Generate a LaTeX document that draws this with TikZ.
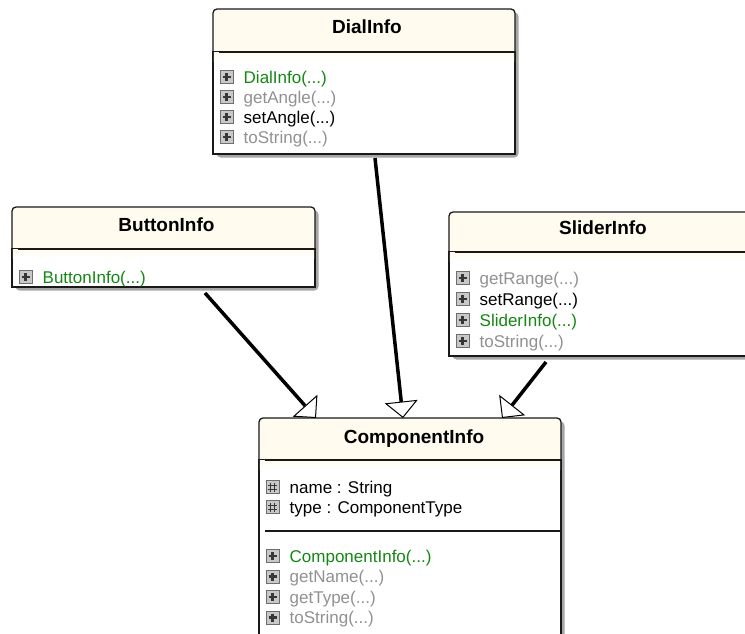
\documentclass[tikz,border=0pt]{standalone}
\usepackage{fontspec}
\setmainfont{Liberation Sans}
\usetikzlibrary{arrows.meta,calc,shadows}

\definecolor{cream}{RGB}{255,251,238}
\definecolor{ctorgreen}{RGB}{20,135,20}
\definecolor{mutedgray}{RGB}{145,145,145}
\definecolor{iconfill}{RGB}{200,200,200}
\definecolor{iconedge}{RGB}{110,110,110}
\definecolor{iconglyph}{RGB}{55,55,55}

\tikzset{
  classbox/.style={draw=black!90, line width=1.3pt, fill=cream, rounded corners=4pt,
    inner sep=0pt, outer sep=0pt, anchor=north west,
    drop shadow={shadow xshift=3.5pt, shadow yshift=-3.5pt, fill=black!35, opacity=1}},
  boxline/.style={draw=black!90, line width=1.3pt},
  sepline/.style={draw=black!90, line width=1.3pt},
  classtitle/.style={font=\bfseries\fontsize{19}{22}\selectfont, text height=13.6pt,
    text depth=0pt, inner sep=0pt, anchor=center},
  member/.style={font=\fontsize{17}{20}\selectfont, text height=12.2pt, text depth=0pt,
    inner sep=0pt, anchor=west},
  generalization/.style={line width=3.5pt,
    -{Triangle[length=16.5pt, width=33pt, line width=1pt, fill=white]}},
}

% body of a class: white compartment area, fading title band, separator
\newcommand\classframe[2]{%
  \draw[boxline, fill=white] ($(#1.north west)+(0,#2)$) rectangle (#1.south east);
  \shade[top color=cream, bottom color=white]
    ($(#1.north west)+(0.8,#2)$) rectangle ($(#1.north east)+(-0.8,#2+9)$);
  \draw[sepline] ($(#1.north west)+(6,#2)$) -- ($(#1.north east)+(0,#2)$);
}
% operation icon (boxed plus)
\newcommand\opicon[2]{%
  \path ($(#1.north west)+(13.5,#2)$) coordinate (ic);
  \draw[draw=iconedge, fill=iconfill, line width=1pt]
    ($(ic)+(-6.5,-6.5)$) rectangle ($(ic)+(6.5,6.5)$);
  \draw[iconglyph, line width=2.3pt]
    ($(ic)+(-4,0)$) -- ($(ic)+(4,0)$) ($(ic)+(0,-4)$) -- ($(ic)+(0,4)$);
}
% attribute icon (boxed hash)
\newcommand\fieldicon[2]{%
  \path ($(#1.north west)+(13.5,#2)$) coordinate (ic);
  \draw[draw=iconedge, fill=iconfill, line width=1pt]
    ($(ic)+(-6.5,-6.5)$) rectangle ($(ic)+(6.5,6.5)$);
  \draw[iconglyph, line width=1pt]
    ($(ic)+(-2,-4.5)$) -- ($(ic)+(-2,4.5)$) ($(ic)+(2,-4.5)$) -- ($(ic)+(2,4.5)$)
    ($(ic)+(-4.5,-2)$) -- ($(ic)+(4.5,-2)$) ($(ic)+(-4.5,2)$) -- ($(ic)+(4.5,2)$);
}
% member text line
\newcommand\member[5]{%
  \node[member, text=#4] (#1) at ($(#2.north west)+(30.5,#3)$) {#5};
}

\begin{document}
\begin{tikzpicture}[x=1pt, y=-1pt]
\useasboundingbox (0,0) rectangle (745,633);
\fill[white] (0,0) rectangle (745,633);
\clip (0,0) rectangle (745,633);

% class boxes
\node[classbox, minimum width=302pt, minimum height=145pt] (dial)   at (213,9)   {};
\node[classbox, minimum width=303pt, minimum height=80pt]  (button) at (12,207)  {};
\node[classbox, minimum width=302pt, minimum height=144pt] (slider) at (449,212) {};
\node[classbox, minimum width=302pt, minimum height=240pt] (comp)   at (259,418) {};

\classframe{dial}{43}
\classframe{button}{42}
\classframe{slider}{40}
\classframe{comp}{42}
\draw[sepline] ($(comp.north west)+(6,113)$) -- ($(comp.north east)+(0,113)$);

% titles
\node[classtitle] (dialT)   at ($(dial.north)+(3,18)$)   {DialInfo};
\node[classtitle] (buttonT) at ($(button.north)+(3,18)$) {ButtonInfo};
\node[classtitle] (sliderT) at ($(slider.north)+(3,16)$) {SliderInfo};
\node[classtitle] (compT)   at ($(comp.north)+(4,19)$)   {ComponentInfo};

% DialInfo members
\opicon{dial}{68}  \member{d1}{dial}{68}{ctorgreen}{DialInfo(...)}
\opicon{dial}{88}  \member{d2}{dial}{88}{mutedgray}{getAngle(...)}
\opicon{dial}{108} \member{d3}{dial}{108}{black}{setAngle(...)}
\opicon{dial}{128} \member{d4}{dial}{128}{mutedgray}{toString(...)}

% ButtonInfo members
\opicon{button}{70} \member{b1}{button}{70}{ctorgreen}{ButtonInfo(...)}

% SliderInfo members
\opicon{slider}{66}  \member{s1}{slider}{66}{mutedgray}{getRange(...)}
\opicon{slider}{87}  \member{s2}{slider}{87}{black}{setRange(...)}
\opicon{slider}{108} \member{s3}{slider}{108}{ctorgreen}{SliderInfo(...)}
\opicon{slider}{129} \member{s4}{slider}{129}{mutedgray}{toString(...)}

% ComponentInfo members
\fieldicon{comp}{69} \member{c1}{comp}{69}{black}{name : String}
\fieldicon{comp}{89} \member{c2}{comp}{89}{black}{type : ComponentType}
\opicon{comp}{138}   \member{c3}{comp}{138}{ctorgreen}{ComponentInfo(...)}
\opicon{comp}{158.5} \member{c4}{comp}{158.5}{mutedgray}{getName(...)}
\opicon{comp}{179}   \member{c5}{comp}{179}{mutedgray}{getType(...)}
\opicon{comp}{199.5} \member{c6}{comp}{199.5}{mutedgray}{toString(...)}

% generalizations
\draw[generalization] ($(button.south west)+(193,6)$) -- ($(comp.north west)+(57,0)$);
\draw[generalization] ($(dial.south west)+(162,4)$)   -- ($(comp.north west)+(144,0)$);
\draw[generalization] ($(slider.south west)+(97,6)$)  -- ($(comp.north west)+(243,0)$);
\end{tikzpicture}
\end{document}
